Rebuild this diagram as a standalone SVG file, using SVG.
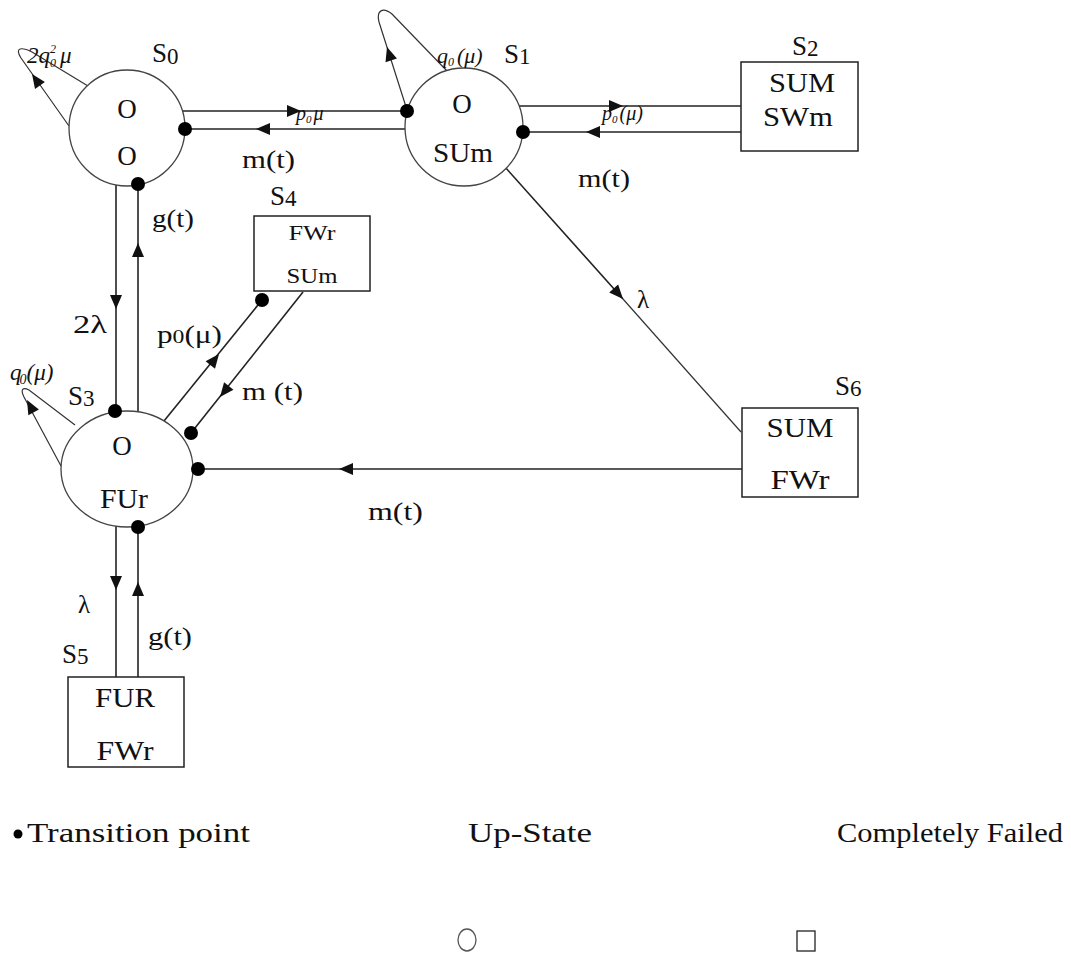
<svg xmlns="http://www.w3.org/2000/svg" xmlns:xlink="http://www.w3.org/1999/xlink" width="1071" height="953" viewBox="0 0 1071 953" font-family="Liberation Serif, Tinos, Times New Roman, serif">
<style>
text{font-family:'Liberation Serif',Tinos,'Times New Roman',serif;fill:#111;}
.nd{fill:#fff;stroke:#444;stroke-width:1.3;}
.bx{fill:#fff;stroke:#222;stroke-width:1.5;}
.ln{fill:none;stroke:#222;stroke-width:1.6;}
.lnt{fill:none;stroke:#333;stroke-width:1.2;}
.t26{font-size:27px;}
.t22{font-size:22px;}
.lab{font-size:25px;}
.it{font-style:italic;}
.leg{font-size:27px;}
</style>
<defs>
<path id="ah" d="M0,0 L-14,-6 L-14,6 Z" fill="#111"/>
<circle id="dot" r="7" fill="#000"/>
</defs>
<rect width="1071" height="953" fill="#fff"/>

<g id="connectors">
  <path class="ln" d="M183,111 L407,111"/>
  <use xlink:href="#ah" transform="translate(301,111)"/>
  <path class="ln" d="M185,129 L405,129"/>
  <use xlink:href="#ah" transform="translate(256,129) rotate(180)"/>
  <path class="ln" d="M519,106 L741,106"/>
  <use xlink:href="#ah" transform="translate(623,106)"/>
  <path class="ln" d="M523,132 L741,132"/>
  <use xlink:href="#ah" transform="translate(586,132) rotate(180)"/>
  <path class="ln" d="M505,167 L623,299"/>
  <path class="lnt" d="M623,299 L741,432"/>
  <use xlink:href="#ah" transform="translate(623,299) rotate(48.2)"/>
  <path class="ln" d="M116,185 L116,411"/>
  <use xlink:href="#ah" transform="translate(116,309) rotate(90)"/>
  <path class="ln" d="M138,184 L138,412"/>
  <use xlink:href="#ah" transform="translate(138,243) rotate(-90)"/>
  <path class="ln" d="M164,421 L262,300"/>
  <use xlink:href="#ah" transform="translate(219,354) rotate(-51.6)"/>
  <path class="ln" d="M303,292 L191,433"/>
  <use xlink:href="#ah" transform="translate(220,397) rotate(128.7)"/>
  <path class="ln" d="M742,469 L198,469"/>
  <use xlink:href="#ah" transform="translate(339,469) rotate(180)"/>
  <path class="ln" d="M116,526 L116,677"/>
  <use xlink:href="#ah" transform="translate(116,590) rotate(90)"/>
  <path class="ln" d="M138,526 L138,677"/>
  <use xlink:href="#ah" transform="translate(138,582) rotate(-90)"/>
  <path class="lnt" d="M69,126 L21,58 C14,47 22,47 32,52 L88,86"/>
  <use xlink:href="#ah" transform="translate(32,74) rotate(-124.6)"/>
  <path class="lnt" d="M407,110 L379,22 C376,10 383,7 392,14 L448,72"/>
  <use xlink:href="#ah" transform="translate(387,47) rotate(-107.6)"/>
  <path class="lnt" d="M61,466 L24,397 C20,389 23,387 29,390 L75,425"/>
  <use xlink:href="#ah" transform="translate(27,400) rotate(-118.2)"/>
</g>

<g id="S0">
  <circle class="nd" cx="127" cy="128" r="58"/>
  <text class="t26" x="127" y="118" text-anchor="middle">O</text>
  <text class="t26" x="127" y="165" text-anchor="middle">O</text>
  <text class="t26" x="152" y="62">S<tspan font-size="23" dy="2">0</tspan></text>
  <use xlink:href="#dot" x="185" y="129"/>
  <use xlink:href="#dot" x="138" y="184"/>
</g>
<g id="S1">
  <circle class="nd" cx="464" cy="127" r="59"/>
  <text class="t26" x="462" y="113" text-anchor="middle">O</text>
  <text class="t26" x="463" y="162" text-anchor="middle" textLength="60" lengthAdjust="spacingAndGlyphs">SUm</text>
  <text class="t26" x="504" y="63">S<tspan font-size="23" dy="1">1</tspan></text>
  <use xlink:href="#dot" x="407" y="111"/>
  <use xlink:href="#dot" x="523" y="132"/>
</g>
<g id="S2">
  <rect class="bx" x="741" y="62" width="117" height="89"/>
  <text class="t26" x="802" y="92" text-anchor="middle" textLength="66" lengthAdjust="spacingAndGlyphs">SUM</text>
  <text class="t26" x="798" y="126" text-anchor="middle" textLength="70" lengthAdjust="spacingAndGlyphs">SWm</text>
  <text class="t26" x="792" y="55">S<tspan font-size="23" dy="1">2</tspan></text>
</g>
<g id="S3">
  <ellipse class="nd" cx="127" cy="469" rx="66" ry="58"/>
  <text class="t26" x="122" y="455" text-anchor="middle">O</text>
  <text class="t26" x="124" y="508" text-anchor="middle" textLength="48" lengthAdjust="spacingAndGlyphs">FUr</text>
  <text class="t26" x="68" y="405">S<tspan font-size="23" dy="1">3</tspan></text>
  <use xlink:href="#dot" x="115" y="411"/>
  <use xlink:href="#dot" x="191" y="433"/>
  <use xlink:href="#dot" x="198" y="469"/>
  <use xlink:href="#dot" x="138" y="527"/>
</g>
<g id="S4">
  <rect class="bx" x="254" y="216" width="116" height="75"/>
  <text class="t22" x="312" y="240" text-anchor="middle" textLength="47" lengthAdjust="spacingAndGlyphs">FWr</text>
  <text class="t22" x="312" y="283" text-anchor="middle" textLength="51" lengthAdjust="spacingAndGlyphs">SUm</text>
  <text class="t26" x="270" y="205">S<tspan font-size="23" dy="1">4</tspan></text>
  <use xlink:href="#dot" x="262" y="300"/>
</g>
<g id="S5">
  <rect class="bx" x="68" y="677" width="116" height="90"/>
  <text class="t26" x="125" y="707" text-anchor="middle" textLength="60" lengthAdjust="spacingAndGlyphs">FUR</text>
  <text class="t26" x="125" y="760" text-anchor="middle" textLength="57" lengthAdjust="spacingAndGlyphs">FWr</text>
  <text class="t26" x="62" y="663">S<tspan font-size="23" dy="1">5</tspan></text>
</g>
<g id="S6">
  <rect class="bx" x="742" y="408" width="116" height="89"/>
  <text class="t26" x="800" y="437" text-anchor="middle" textLength="67" lengthAdjust="spacingAndGlyphs">SUM</text>
  <text class="t26" x="800" y="489" text-anchor="middle" textLength="59" lengthAdjust="spacingAndGlyphs">FWr</text>
  <text class="t26" x="835" y="395">S<tspan font-size="23" dy="1">6</tspan></text>
</g>

<g id="labels">
  <text class="it" x="27" y="63" font-size="23">2q<tspan font-size="12" dy="4">0</tspan><tspan font-size="12" dx="-6" dy="-14">2</tspan><tspan dx="4" dy="10">μ</tspan></text>
  <text class="it" x="437" y="63" font-size="22">q<tspan font-size="12" dy="3">0</tspan><tspan dx="3" dy="-3">(μ)</tspan></text>
  <text class="it" x="296" y="120" font-size="20">p<tspan font-size="11" dy="3">0</tspan><tspan dx="2" dy="-3">μ</tspan></text>
  <text class="lab" x="242" y="168" textLength="53" lengthAdjust="spacingAndGlyphs">m(t)</text>
  <text class="it" x="602" y="120" font-size="20">p<tspan font-size="11" dy="3">0</tspan><tspan dx="2" dy="-3">(μ)</tspan></text>
  <text class="lab" x="578" y="187" textLength="52" lengthAdjust="spacingAndGlyphs">m(t)</text>
  <text class="lab" x="637" y="308" font-size="27">λ</text>
  <text class="lab" x="152" y="227" textLength="42" lengthAdjust="spacingAndGlyphs">g(t)</text>
  <text class="lab" x="73" y="333" textLength="34" lengthAdjust="spacingAndGlyphs">2λ</text>
  <text class="lab" x="157" y="343" textLength="65" lengthAdjust="spacingAndGlyphs">p<tspan font-size="19">0</tspan>(μ)</text>
  <text class="lab" x="242" y="400" textLength="61" lengthAdjust="spacingAndGlyphs">m (t)</text>
  <text class="it" x="10" y="380" font-size="23">q<tspan font-size="14" dx="-2" dy="4">0</tspan><tspan dy="-4">(μ)</tspan></text>
  <text class="lab" x="368" y="520" textLength="55" lengthAdjust="spacingAndGlyphs">m(t)</text>
  <text class="lab" x="78" y="613" font-size="27">λ</text>
  <text class="lab" x="148" y="645" textLength="44" lengthAdjust="spacingAndGlyphs">g(t)</text>
</g>

<g id="legend">
  <circle cx="18" cy="834" r="4.5" fill="#000"/>
  <text class="leg" x="27" y="842" textLength="223" lengthAdjust="spacingAndGlyphs">Transition point</text>
  <text class="leg" x="468" y="842" textLength="124" lengthAdjust="spacingAndGlyphs">Up-State</text>
  <text class="leg" x="837" y="842" textLength="226" lengthAdjust="spacingAndGlyphs">Completely Failed</text>
  <ellipse cx="467" cy="940" rx="9" ry="11" fill="none" stroke="#555" stroke-width="1.3"/>
  <rect x="797" y="931" width="18" height="20" fill="none" stroke="#222" stroke-width="1.3"/>
</g>
</svg>
